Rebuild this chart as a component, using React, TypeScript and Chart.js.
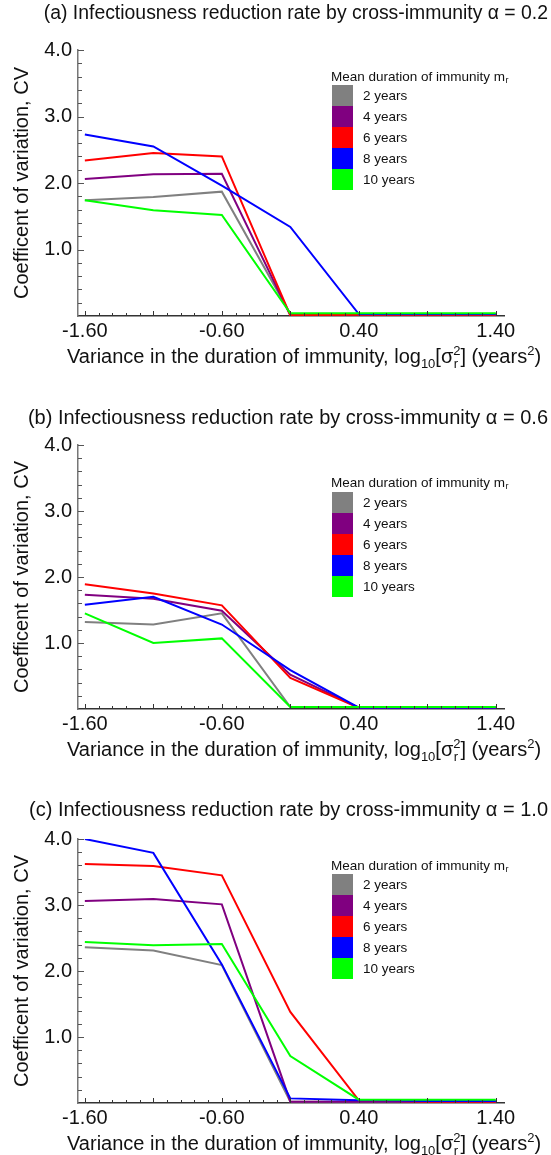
import React, { useEffect, useRef } from "react";
import { Chart, registerables } from "chart.js";

Chart.register(...registerables);

const FONT = '"Liberation Sans", Arial, Helvetica, sans-serif';
Chart.defaults.font.family = FONT;
Chart.defaults.color = "#111";

// ---------- data ----------
const xValues = [-1.6, -1.1, -0.6, -0.1, 0.4, 0.9, 1.4];
const xTickValues = [-1.6, -0.6, 0.4, 1.4];
const seriesLabels = ["2 years", "4 years", "6 years", "8 years", "10 years"];
const seriesColors = ["#808080", "#800080", "#ff0000", "#0000ff", "#00ff00"];

// (a) alpha = 0.2
const a2y = [1.74, 1.79, 1.87, 0.03, 0.03, 0.03, 0.03];
const a4y = [2.06, 2.13, 2.14, 0.01, 0.01, 0.01, 0.01];
const a6y = [2.34, 2.45, 2.4, 0.01, 0.02, 0.02, 0.02];
const a8y = [2.73, 2.55, 1.96, 1.34, 0.03, 0.03, 0.03];
const a10y = [1.74, 1.59, 1.52, 0.04, 0.04, 0.04, 0.04];

// (b) alpha = 0.6
const b2y = [1.32, 1.28, 1.45, 0.03, 0.03, 0.03, 0.03];
const b4y = [1.73, 1.67, 1.49, 0.52, 0.02, 0.02, 0.02];
const b6y = [1.89, 1.75, 1.57, 0.47, 0.02, 0.02, 0.02];
const b8y = [1.58, 1.7, 1.28, 0.59, 0.02, 0.02, 0.02];
const b10y = [1.45, 1.0, 1.07, 0.03, 0.03, 0.03, 0.03];

// (c) alpha = 1.0
const c2y = [2.36, 2.31, 2.09, 0.02, 0.02, 0.02, 0.02];
const c4y = [3.06, 3.09, 3.01, 0.02, 0.02, 0.02, 0.02];
const c6y = [3.62, 3.59, 3.45, 1.38, 0.04, 0.02, 0.02];
const c8y = [4.0, 3.79, 2.1, 0.07, 0.04, 0.03, 0.03];
const c10y = [2.44, 2.39, 2.41, 0.71, 0.05, 0.05, 0.05];

const titleA = "(a) Infectiousness reduction rate by cross-immunity \u03b1 = 0.2";
const titleB = "(b) Infectiousness reduction rate by cross-immunity \u03b1 = 0.6";
const titleC = "(c) Infectiousness reduction rate by cross-immunity \u03b1 = 1.0";
const yTitle = "Coefficent of variation, CV";
const legendTitle = "Mean duration of immunity m";

// ---------- layout ----------
const W = 551;
const PLOT_LEFT = 78;
const PLOT_RIGHT = 504;
const PAD_RIGHT = 3;

type Spec = {
  title: string;
  titleSize: number;
  series: number[][];
  canvasTop: number;
  canvasHeight: number;
  titleCenter: number;
  plotTop: number;
  plotBottom: number;
  legendTitleY: number;
  legendBoxTop: number;
};

const panels: Spec[] = [
  {
    title: titleA, titleSize: 19.4, series: [a2y, a4y, a6y, a8y, a10y],
    canvasTop: 0, canvasHeight: 372, titleCenter: 14, plotTop: 50, plotBottom: 316,
    legendTitleY: 77, legendBoxTop: 85,
  },
  {
    title: titleB, titleSize: 20, series: [b2y, b4y, b6y, b8y, b10y],
    canvasTop: 372, canvasHeight: 393, titleCenter: 418, plotTop: 445, plotBottom: 709,
    legendTitleY: 483, legendBoxTop: 492,
  },
  {
    title: titleC, titleSize: 20, series: [c2y, c4y, c6y, c8y, c10y],
    canvasTop: 765, canvasHeight: 390, titleCenter: 810, plotTop: 839, plotBottom: 1103,
    legendTitleY: 866, legendBoxTop: 874,
  },
];

const drawOrder = [4, 3, 2, 1, 0]; // lower = on top

const extrasPlugin = {
  id: "extras",
  afterDraw(chart: any, _args: any, opts: any) {
    const { ctx, chartArea } = chart;
    const x = chart.scales.x;
    const y = chart.scales.y;
    ctx.save();
    // inward x ticks every 0.1, longer every 0.5
    ctx.strokeStyle = "#333";
    ctx.lineWidth = 1;
    for (let i = -16; i <= 14; i++) {
      const px = Math.round(x.getPixelForValue(i / 10)) + 0.5;
      const len = (i + 16) % 5 === 0 ? 5 : 3;
      ctx.beginPath();
      ctx.moveTo(px, chartArea.bottom);
      ctx.lineTo(px, chartArea.bottom - len);
      ctx.stroke();
    }
    // inward y ticks every 0.2, longer every 1.0
    ctx.strokeStyle = "#555";
    for (let j = 1; j <= 20; j++) {
      const py = Math.round(y.getPixelForValue(j / 5)) + 0.5;
      const len = j % 5 === 0 ? 6 : 4;
      ctx.beginPath();
      ctx.moveTo(chartArea.left, py);
      ctx.lineTo(chartArea.left + len, py);
      ctx.stroke();
    }

    // legend
    const boxX = chartArea.left + 254;
    const boxW = 21;
    const boxH = 21;
    ctx.fillStyle = "#111";
    ctx.textBaseline = "middle";
    ctx.textAlign = "left";
    ctx.font = `13.5px ${FONT}`;
    ctx.fillText(legendTitle, boxX - 1, opts.legendTitleY);
    const lw = ctx.measureText(legendTitle).width;
    ctx.font = `9px ${FONT}`;
    ctx.fillText("r", boxX - 1 + lw + 0.5, opts.legendTitleY + 4);
    ctx.font = `13.5px ${FONT}`;
    chart.data.datasets.forEach((ds: any, i: number) => {
      const top = opts.legendBoxTop + i * boxH;
      ctx.fillStyle = ds.borderColor;
      ctx.fillRect(boxX, top, boxW, boxH);
      ctx.fillStyle = "#111";
      ctx.fillText(ds.label, boxX + 31, top + boxH / 2 + 0.5);
    });

    // x-axis title with sub/superscripts
    const big = `20px ${FONT}`;
    const small = `13px ${FONT}`;
    let cx = chartArea.left - 11;
    const base = chartArea.bottom + 47;
    ctx.fillStyle = "#111";
    ctx.textBaseline = "alphabetic";
    const put = (t: string, font: string, dy: number) => {
      ctx.font = font;
      ctx.fillText(t, cx, base + dy);
      cx += ctx.measureText(t).width;
    };
    put("Variance in the duration of immunity, log", big, 0);
    put("10", small, 5);
    put("[\u03c3", big, 0);
    ctx.font = small;
    const rw = ctx.measureText("r").width;
    ctx.fillText("r", cx + 0.5, base + 5);
    const s2 = cx;
    put("2", small, -8);
    cx = Math.max(cx, s2 + rw + 1);
    put("] (years", big, 0);
    put("2", small, -8);
    put(")", big, 0);
    ctx.restore();
  },
};

function Panel({ spec }: { spec: Spec }) {
  const ref = useRef<HTMLCanvasElement | null>(null);
  useEffect(() => {
    if (!ref.current) return;
    const lineH = spec.titleSize * 1.2;
    const titleCenterLocal = spec.titleCenter - spec.canvasTop;
    const plotTopLocal = spec.plotTop - spec.canvasTop;
    const plotBottomLocal = spec.plotBottom - spec.canvasTop;
    const padTop = titleCenterLocal - lineH / 2;
    const padBottom = plotTopLocal - padTop - lineH;
    const tickFont = { family: FONT, size: 20, weight: "normal" as const };

    const datasets = spec.series.map((vals, i) => ({
      label: seriesLabels[i],
      data: xValues.map((xv, k) => ({ x: xv, y: vals[k] })),
      borderColor: seriesColors[i],
      backgroundColor: seriesColors[i],
      borderWidth: 2,
      pointRadius: 0,
      tension: 0,
      fill: false,
      order: drawOrder[i],
    }));

    const chart = new Chart(ref.current, {
      type: "line",
      data: { datasets },
      options: {
        animation: false,
        responsive: false,
        maintainAspectRatio: false,
        devicePixelRatio: 1,
        layout: { padding: { left: 0, right: PAD_RIGHT, top: 0, bottom: 0 } },
        plugins: {
          legend: { display: false },
          tooltip: { enabled: false },
          title: {
            display: true,
            text: spec.title,
            align: "end",
            color: "#111",
            font: { family: FONT, size: spec.titleSize, weight: "normal", lineHeight: 1.2 },
            padding: { top: padTop, bottom: padBottom },
          },
          extras: { legendTitleY: spec.legendTitleY - spec.canvasTop, legendBoxTop: spec.legendBoxTop - spec.canvasTop },
        } as any,
        scales: {
          x: {
            type: "linear",
            min: -1.65,
            max: 1.46,
            grid: { display: false, drawTicks: false },
            border: { display: true, color: "#333", width: 1.5 },
            ticks: {
              font: tickFont,
              color: "#111",
              padding: 3,
              maxRotation: 0,
              autoSkip: false,
              callback: (v: any) => Number(v).toFixed(2),
            },
            afterBuildTicks: (s: any) => {
              s.ticks = xTickValues.map((v) => ({ value: v }));
            },
            afterFit: (s: any) => {
              s.height = spec.canvasHeight - plotBottomLocal;
            },
          },
          y: {
            type: "linear",
            min: 0,
            max: 4,
            grid: { display: false, drawTicks: false },
            border: { display: true, color: "#777", width: 1.5 },
            ticks: {
              stepSize: 1,
              font: tickFont,
              color: "#111",
              padding: 6,
              callback: (v: any) => (Number(v) === 0 ? "" : Number(v).toFixed(1)),
            },
            title: {
              display: true,
              text: yTitle,
              color: "#111",
              font: { family: FONT, size: 20, weight: "normal", lineHeight: 1.2 },
              padding: { top: 10, bottom: 0 },
            },
            afterFit: (s: any) => {
              s.width = PLOT_LEFT;
            },
          },
          y2: {
            type: "linear",
            position: "right",
            display: true,
            grid: { display: false, drawTicks: false },
            border: { display: false },
            ticks: { display: false },
            afterFit: (s: any) => {
              s.width = W - PAD_RIGHT - PLOT_RIGHT;
            },
          },
        },
      } as any,
      plugins: [extrasPlugin],
    });
    return () => chart.destroy();
  }, [spec]);

  return (
    <canvas
      ref={ref}
      width={W}
      height={spec.canvasHeight}
      style={{ position: "absolute", left: 0, top: spec.canvasTop, width: W, height: spec.canvasHeight }}
    />
  );
}

export default function App() {
  return (
    <div style={{ position: "absolute", left: 0, top: 0, width: W, height: 1155, background: "#fff" }}>
      {panels.map((p, i) => (
        <Panel key={i} spec={p} />
      ))}
    </div>
  );
}
